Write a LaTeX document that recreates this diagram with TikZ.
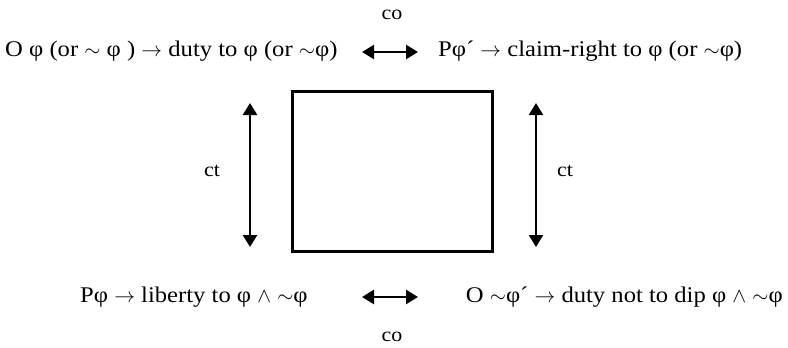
\documentclass[tikz,border=0pt]{standalone}
\usepackage{fontspec}
\setmainfont[FakeStretch=1.1]{Liberation Serif}
\newcommand{\tld}{\ensuremath{\sim}}
\newcommand{\wedg}{\ensuremath{\wedge}}
\newcommand{\arr}{\ensuremath{\rightarrow}}
\usetikzlibrary{arrows.meta}
\begin{document}
\begin{tikzpicture}[x=1pt,y=-1pt,
  lbl/.style={inner sep=0pt,font=\fontsize{22.4}{27}\selectfont},
  small/.style={inner sep=0pt,font=\fontsize{20}{24}\selectfont},
  dbl/.style={line width=2.5pt,{Triangle[length=12pt,width=14pt]}-{Triangle[length=12pt,width=14pt]}}]
\useasboundingbox (0,0) rectangle (788,348);
\node[small] (cotop) at (392,15) {co};
\node[small] (cobot) at (392,337) {co};
\node[lbl,anchor=west] (tl) at (5,51) {O φ (or \tld\ φ ) \arr\ duty to φ (or \tld φ)};
\node[lbl,anchor=west] (tr) at (438,51) {Pφ´ \arr\ claim-right to φ (or \tld φ)};
\node[lbl,anchor=west] (bl) at (80,297) {Pφ \arr\ liberty to φ \wedg\ \tld φ};
\node[lbl,anchor=east] (br) at (783,297) {O \tld φ´ \arr\ duty not to dip φ \wedg\ \tld φ};
\node[draw,line width=3pt,minimum width=200pt,minimum height=160pt,inner sep=0pt] (box) at (392,171) {};
\coordinate (ta) at (362,52); \coordinate (tb) at (418,52);
\coordinate (ba) at (362,297); \coordinate (bb) at (418,297);
\coordinate (la) at (250,103); \coordinate (lb) at (250,247);
\coordinate (ra) at (536,103); \coordinate (rb) at (536,247);
\draw[dbl] (ta) -- (tb);
\draw[dbl] (ba) -- (bb);
\draw[dbl] (la) -- (lb);
\draw[dbl] (ra) -- (rb);
\node[small] (ctl) at (212,171) {ct};
\node[small] (ctr) at (565,171) {ct};
\end{tikzpicture}
\end{document}
